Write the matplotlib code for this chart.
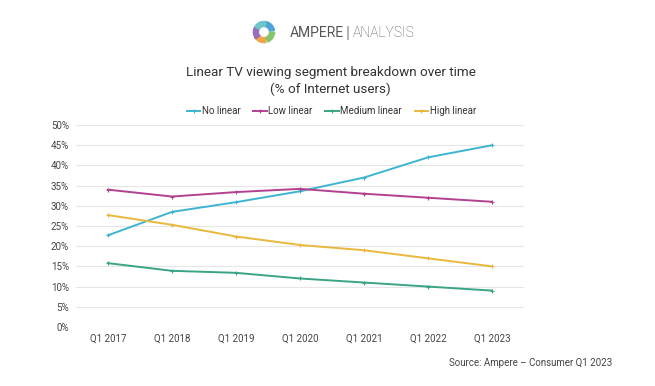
import matplotlib
matplotlib.use('Agg')
import matplotlib.pyplot as plt
from matplotlib.patches import Wedge
import numpy as np

plt.rcParams['font.family'] = ['Roboto', 'DejaVu Sans']

quarters = ['Q1 2017', 'Q1 2018', 'Q1 2019', 'Q1 2020', 'Q1 2021', 'Q1 2022', 'Q1 2023']
no_linear = [22.7, 28.5, 30.9, 33.6, 37.0, 42.0, 45.0]
low_linear = [34.0, 32.3, 33.4, 34.2, 33.0, 32.0, 31.0]
medium_linear = [15.8, 13.9, 13.4, 12.0, 11.0, 10.0, 9.0]
high_linear = [27.7, 25.3, 22.4, 20.3, 19.0, 17.0, 15.0]

series = [('No linear', no_linear, '#3db5d0'),
          ('Low linear', low_linear, '#b2418f'),
          ('Medium linear', medium_linear, '#3aa586'),
          ('High linear', high_linear, '#e9b83c')]

fig = plt.figure(figsize=(6.55, 3.86), dpi=100)
ax = fig.add_axes([0.116, 0.153, 0.684, 0.523])

x = np.arange(len(quarters))
for name, vals, col in series:
    ax.plot(x, vals, color=col, lw=1.4, marker='+', ms=3, mew=0.8, label=name)

ax.set_xlim(-0.5, len(quarters) - 0.5)
ax.set_ylim(0, 50)
ax.set_yticks(range(0, 51, 5))
ax.set_yticklabels([f'{v}%' for v in range(0, 51, 5)])
ax.set_xticks(x)
ax.set_xticklabels(quarters)
ax.grid(axis='y', color='#e6e6e6', lw=0.8)
ax.set_axisbelow(True)
for s in ax.spines.values():
    s.set_visible(False)
ax.tick_params(length=0, labelsize=7, colors='#444444', pad=5)
ax.tick_params(axis='x', pad=5)

ax.legend(loc='lower center', bbox_to_anchor=(0.57, 1.0), ncol=4, frameon=False,
          fontsize=7, handlelength=1.4, handletextpad=0.15, columnspacing=1.3,
          labelcolor='#333333')

fig.text(0.505, 0.79, 'Linear TV viewing segment breakdown over time\n(% of Internet users)',
         ha='center', va='center', fontsize=9.7, color='#333333', linespacing=1.3)

fig.text(0.935, 0.06, 'Source: Ampere \u2013 Consumer Q1 2023', ha='right', va='center',
         fontsize=7, color='#444444')

# logo
lax = fig.add_axes([0.383, 0.882, 0.04, 0.07])
lax.set_aspect('equal')
lax.axis('off')
logo_cols = ['#4fa3d8', '#8ac46a', '#f0a54a', '#9a6cc0', '#6ec6c8']
starts = [10, -70, -150, 150, 80]
for st, col in zip(starts, logo_cols):
    lax.add_patch(Wedge((0, 0), 0.85, st, st + 70, width=0.4, color=col))
lax.set_xlim(-1.05, 1.05)
lax.set_ylim(-1.05, 1.05)
fig.text(0.443, 0.914, 'AMPERE', ha='left', va='center', fontsize=10, color='#555555')
fig.text(0.528, 0.914, '|', ha='left', va='center', fontsize=12, color='#888888')
fig.text(0.539, 0.914, 'ANALYSIS', ha='left', va='center', fontsize=10, color='#555555',
         fontweight='light')

fig.savefig('out.png', dpi=100, facecolor='white')
